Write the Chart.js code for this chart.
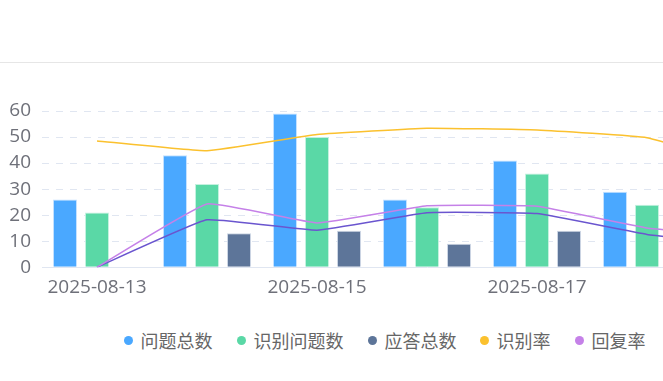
<!DOCTYPE html>
<html>
<head>
<meta charset="utf-8">
<script src="https://cdn.jsdelivr.net/npm/chart.js@4/dist/chart.umd.min.js"></script>
<style>
  html, body { margin: 0; padding: 0; background: #fff; }
  body { width: 663px; height: 381px; overflow: hidden; position: relative; font-family: "Open Sans", "Noto Sans CJK SC", sans-serif; }
  #divider { position: absolute; left: 0; top: 62px; width: 663px; height: 1px; background: #e6e6e6; }
  #wrap { position: absolute; left: 0; top: 0; width: 830px; height: 300px; }
  #legend { position: absolute; top: 328px; left: 0; width: 663px; height: 24px; }
  .item { position: absolute; top: 0; height: 24px; display: flex; align-items: center; font-size: 18px; color: #666; font-family: "Noto Sans CJK SC", sans-serif; white-space: nowrap; }
  .dot { width: 9px; height: 9px; border-radius: 50%; margin-right: 8px; }
</style>
</head>
<body>
<div id="divider"></div>
<div id="wrap"><canvas id="c"></canvas></div>
<div id="legend"></div>
<script>
const categories = ['2025-08-13','2025-08-14','2025-08-15','2025-08-16','2025-08-17','2025-08-18','2025-08-19'];
const questionTotal   = [26, 43, 59, 26, 41, 29, 22];
const recognizedCount = [21, 32, 50, 23, 36, 24, 15];
const answerTotal     = [0, 13, 14, 9, 14, 11, 8];
const recognitionRate = [48.5, 44.7, 51, 53.4, 52.7, 49.7, 37.5];
const replyRate       = [0, 24.3, 17, 23.6, 23.4, 15.1, 11.6];
const answerRate      = [0, 18.2, 14.2, 20.9, 20.6, 12.6, 8.1];
const yTicks = [0, 10, 20, 30, 40, 50, 60];

const seriesNames = ['问题总数', '识别问题数', '应答总数', '识别率', '回复率', '应答率'];
const colors = ['#4aa8ff', '#5ad8a6', '#5d7599', '#fbc12e', '#c581e8', '#6a55cf'];
const borderColors = ['rgba(190,222,255,0.9)', 'rgba(190,240,220,0.9)', 'rgba(200,210,225,0.9)'];

const barCommon = { categoryPercentage: 0.873, barPercentage: 0.75, borderWidth: 1, order: 2 };
const lineCommon = { type: 'line', fill: false, pointRadius: 0, borderWidth: 1.5, tension: 0.1, order: 0 };

new Chart(document.getElementById('c'), {
  type: 'bar',
  data: {
    labels: categories,
    datasets: [
      { ...lineCommon, label: seriesNames[3], data: recognitionRate, borderColor: colors[3], backgroundColor: colors[3] },
      { ...lineCommon, label: seriesNames[4], data: replyRate, borderColor: colors[4], backgroundColor: colors[4] },
      { ...lineCommon, label: seriesNames[5], data: answerRate, borderColor: colors[5], backgroundColor: colors[5] },
      { ...barCommon, label: seriesNames[0], data: questionTotal, backgroundColor: colors[0], borderColor: borderColors[0] },
      { ...barCommon, label: seriesNames[1], data: recognizedCount, backgroundColor: colors[1], borderColor: borderColors[1] },
      { ...barCommon, label: seriesNames[2], data: answerTotal, backgroundColor: colors[2], borderColor: borderColors[2] }
    ]
  },
  options: {
    responsive: true,
    maintainAspectRatio: false,
    animation: false,
    layout: { padding: { top: 111, right: 18, left: 0, bottom: 0 } },
    plugins: { legend: { display: false }, tooltip: { enabled: false } },
    scales: {
      x: {
        grid: { display: false },
        border: { display: true, color: '#e0e6f1', width: 1 },
        ticks: {
          autoSkip: false, maxRotation: 0, padding: 1,
          color: '#6e7079', font: { family: 'Open Sans', size: 19 },
          callback: function (v, i) { return i % 2 === 0 ? categories[i] : ''; }
        }
      },
      y: {
        min: 0, max: 60,
        afterFit: function (s) { s.width = 42; },
        afterBuildTicks: function (s) { s.ticks = yTicks.map(v => ({ value: v })); },
        border: { display: false, dash: [7, 7] },
        grid: { color: '#e0e6f1', drawTicks: false, lineWidth: 1 },
        ticks: { padding: 11, color: '#6e7079', font: { family: 'Open Sans', size: 19 } }
      }
    }
  }
});

const legendEl = document.getElementById('legend');
const legendPos = [123.5, 236.5, 367.5, 479.5, 574.5];
for (let i = 0; i < 5; i++) {
  const it = document.createElement('div');
  it.className = 'item';
  it.style.left = legendPos[i] + 'px';
  it.innerHTML = '<span class="dot" style="background:' + colors[i] + '"></span><span>' + seriesNames[i] + '</span>';
  legendEl.appendChild(it);
}
</script>
</body>
</html>
